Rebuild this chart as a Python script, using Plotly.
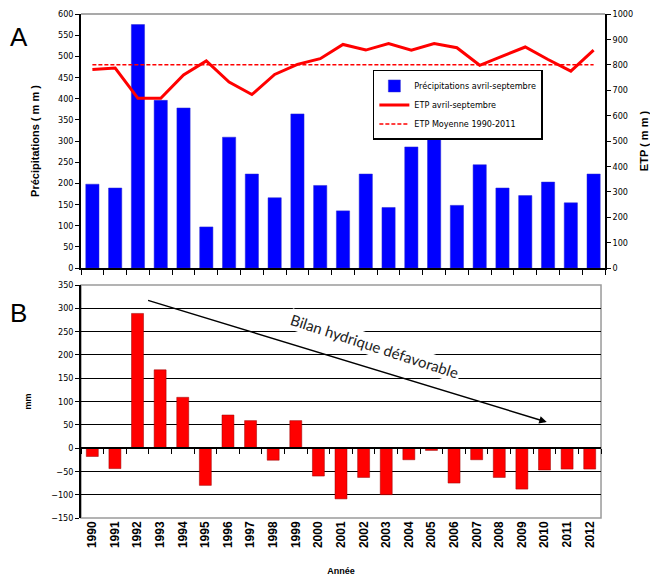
import plotly.graph_objects as go

# ---------------- data ----------------
years = [str(y) for y in range(1990, 2013)]
precip = [198, 189, 575, 396, 378, 97, 309, 222, 166, 364, 195, 135,
          222, 143, 286, 304, 148, 244, 189, 171, 203, 154, 222]
etp = [782, 787, 668, 668, 760, 815, 732, 683, 762, 802, 824, 880,
       858, 884, 858, 884, 867, 798, 834, 870, 821, 775, 858]
ETP_MEAN = 800
bilan = [-18, -44, 289, 168, 109, -80, 71, 59, -26, 59, -60, -109,
         -63, -100, -25, -5, -75, -25, -63, -88, -47, -45, -45]

n = len(years)
etp_mean = [ETP_MEAN] * n

# ---------------- layout geometry ----------------
W, H = 650, 580
ML, MR, MT, MB = 81, 45, 14, 62
top_dom = [0.496, 1.0]
bot_dom = [0.0, 0.4623]
bot_xdom = [0.0, 0.9924]
y2_range = [-150, 350]
zero_pos = bot_dom[0] + (0 - y2_range[0]) / (y2_range[1] - y2_range[0]) * (bot_dom[1] - bot_dom[0])

TICKFONT = dict(family="Liberation Sans Narrow, DejaVu Sans Condensed, Liberation Sans, Arial", size=9, color="black")
BOLD = dict(family="Liberation Sans, Arial", size=12, color="black", weight="bold")

fig = go.Figure()

fig.add_trace(go.Bar(
    x=years, y=precip, name="Précipitations avril-septembre",
    marker=dict(color="#0000FF", line=dict(color="#2a2ad0", width=0.5)),
    width=0.58, xaxis="x", yaxis="y"))
fig.add_trace(go.Scatter(
    x=years, y=etp, name="ETP avril-septembre", mode="lines",
    line=dict(color="#FF0000", width=3), xaxis="x", yaxis="y3"))
fig.add_trace(go.Scatter(
    x=years, y=etp_mean, name="ETP Moyenne 1990-2011", mode="lines",
    line=dict(color="#FF0000", width=1.5, dash="4px,2px"), xaxis="x", yaxis="y3"))

fig.add_trace(go.Bar(
    x=years, y=bilan, name="Bilan", showlegend=False,
    marker=dict(color="#FF0000", line=dict(color="#990000", width=0.5)),
    width=0.53, xaxis="x2", yaxis="y2"))
# invisible helper trace so the zero-line tick axis is drawn
fig.add_trace(go.Scatter(
    x=list(range(n)), y=bilan, mode="markers", marker=dict(opacity=0),
    showlegend=False, hoverinfo="skip", xaxis="x4", yaxis="y2"))

fig.update_layout(
    width=W, height=H, autosize=False,
    margin=dict(l=ML, r=MR, t=MT, b=MB, autoexpand=False),
    paper_bgcolor="white", plot_bgcolor="white",
    font=dict(family="Liberation Sans, Arial", size=9, color="black"),
    showlegend=True,
    legend=dict(
        x=0.557, y=0.889, xanchor="left", yanchor="top",
        bgcolor="white", bordercolor="black", borderwidth=1.5,
        font=dict(family="Liberation Sans Narrow, DejaVu Sans Condensed, Liberation Sans, Arial", size=9, color="black"),
        tracegroupgap=0,
    ),
    xaxis=dict(
        domain=[0, 1], anchor="y", type="category", range=[-0.5, n - 0.5],
        showline=True, linecolor="black", linewidth=1.5, automargin=False,
        ticks="outside", ticklen=5, tickcolor="black", tickson="boundaries",
        showticklabels=False, showgrid=False, zeroline=False),
    yaxis=dict(
        domain=top_dom, anchor="x", range=[0, 600], dtick=50, automargin=False,
        showline=True, linecolor="black", linewidth=1.5,
        ticks="outside", ticklen=4, tickcolor="black", tickfont=TICKFONT,
        showgrid=False, zeroline=False,
        title=dict(text="Précipitations ( m m )", font=dict(family="Liberation Sans, Arial", size=11, color="black", weight="bold"), standoff=16)),
    yaxis3=dict(
        overlaying="y", side="right", anchor="x", range=[0, 1000], dtick=100, automargin=False,
        showline=True, linecolor="black", linewidth=1.5,
        ticks="outside", ticklen=4, tickcolor="black", tickfont=TICKFONT,
        showgrid=False, zeroline=False,
        title=dict(text="ETP ( m m )", font=dict(family="Liberation Sans, Arial", size=11, color="black", weight="bold"), standoff=16)),
    xaxis2=dict(
        domain=bot_xdom, anchor="y2", type="category", range=[-0.5, n - 0.5], automargin=False,
        showline=False, ticks="", tickangle=-90, tickfont=BOLD,
        showgrid=False, zeroline=False,
        title=dict(text="Année", font=dict(family="Liberation Sans, Arial", size=9, color="black", weight="bold"), standoff=20)),
    xaxis4=dict(
        overlaying="x2", anchor="free", position=zero_pos, automargin=False,
        range=[-0.5, n - 0.5], tick0=0.5, dtick=1,
        showline=True, linecolor="black", linewidth=1.5,
        ticks="outside", ticklen=5, tickcolor="black",
        showticklabels=False, showgrid=False, zeroline=False),
    yaxis2=dict(
        domain=bot_dom, anchor="x2", range=y2_range, dtick=50, automargin=False,
        showline=True, linecolor="black", linewidth=1.5,
        ticks="outside", ticklen=4, tickcolor="black", tickfont=TICKFONT,
        showgrid=True, gridcolor="black", gridwidth=1.3, zeroline=False,
        title=dict(text="mm", font=dict(family="Liberation Sans, Arial", size=9, color="black", weight="bold"), standoff=18)),
    shapes=[
        dict(type="line", xref="x domain", yref="y domain", x0=0, x1=1, y0=1, y1=1,
             line=dict(color="#8c8c8c", width=1.5)),
        dict(type="rect", xref="x2 domain", yref="y2 domain", x0=0, x1=1, y0=0, y1=1,
             line=dict(color="#9a9a9a", width=1.5), layer="below"),
    ],
    annotations=[
        dict(text="A", xref="paper", yref="paper", x=-0.14, y=0.955, showarrow=False,
             font=dict(family="Liberation Sans, Arial", size=26, color="black"),
             xanchor="left", yanchor="middle"),
        dict(text="B", xref="paper", yref="paper", x=-0.14, y=0.407, showarrow=False,
             font=dict(family="Liberation Sans, Arial", size=26, color="black"),
             xanchor="left", yanchor="middle"),
        dict(text="", xref="x2", yref="y2", axref="x2", ayref="y2",
             x=20.1, y=56, ax=2.4, ay=318, showarrow=True,
             arrowhead=2, arrowsize=1, arrowwidth=1.5, arrowcolor="black"),
        dict(text="Bilan hydrique défavorable", xref="x2", yref="y2",
             x=12.5, y=220, showarrow=False, textangle=18,
             bgcolor="white",
             font=dict(family="Lato, Open Sans, sans-serif", size=15, color="#222222")),
    ],
)

fig.write_html("out.html")
